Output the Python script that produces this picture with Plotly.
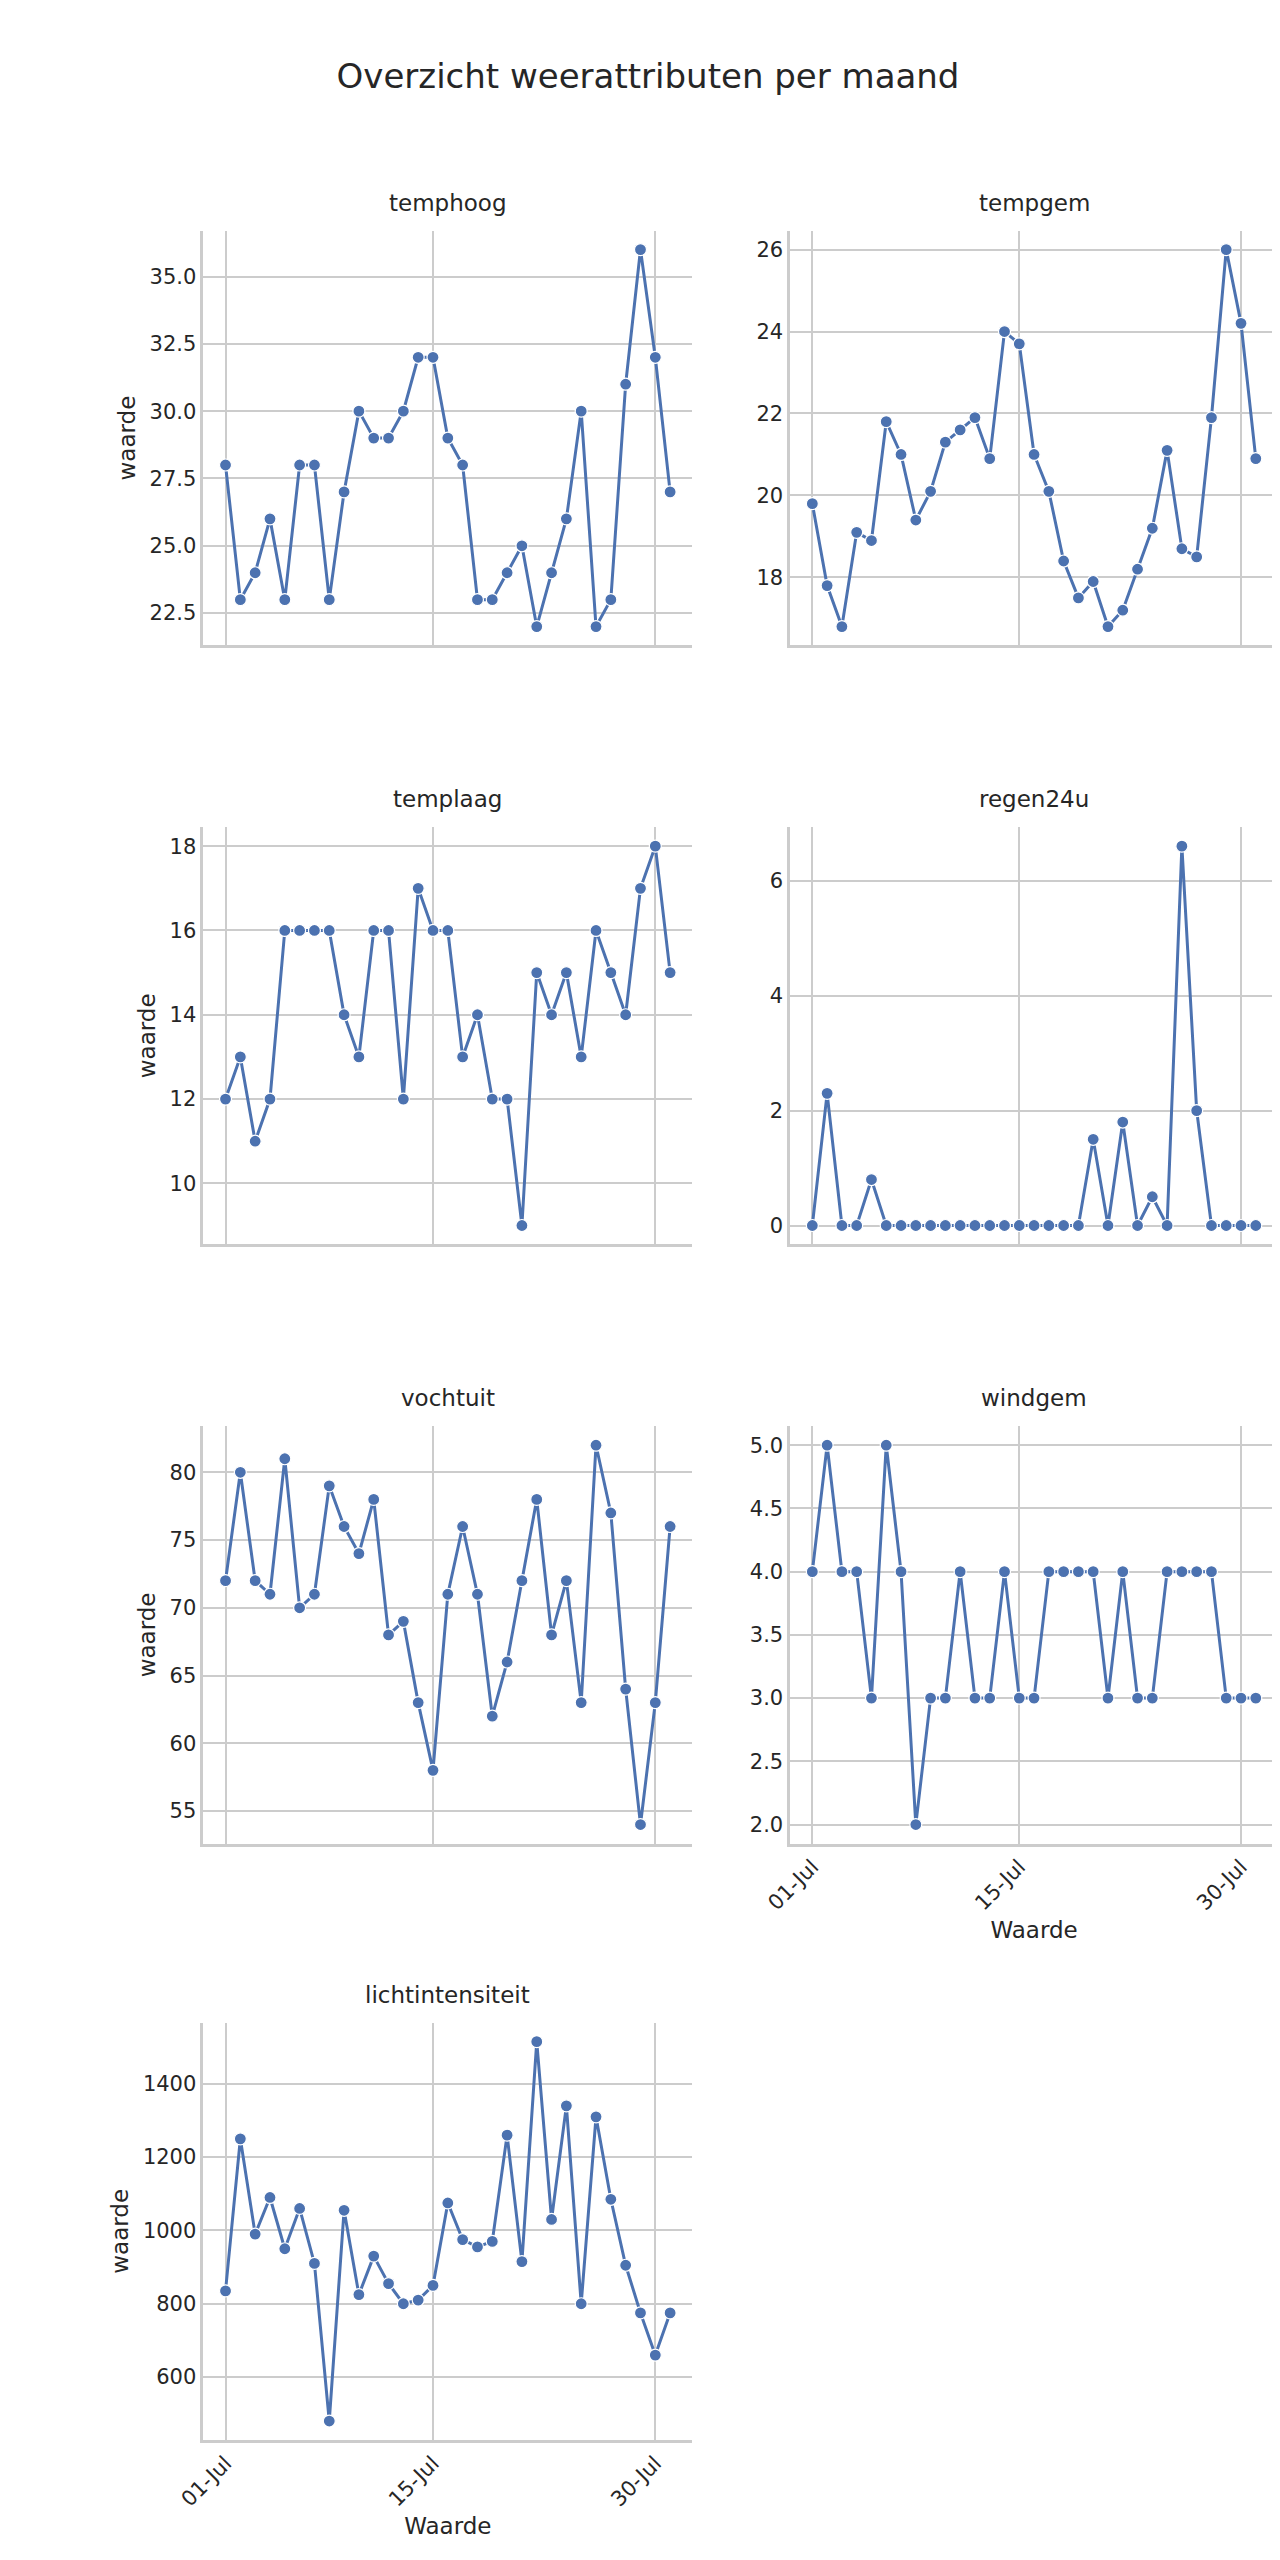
import pandas as pd
import plotly.graph_objects as go

dates = pd.date_range("2024-07-01", "2024-07-31")

temphoog = [28, 23, 24, 26, 23, 28, 28, 23, 27, 30, 29, 29, 30, 32, 32, 29, 28, 23, 23, 24, 25, 22, 24, 26, 30, 22, 23, 31, 36, 32, 27]
tempgem = [19.8, 17.8, 16.8, 19.1, 18.9, 21.8, 21.0, 19.4, 20.1, 21.3, 21.6, 21.9, 20.9, 24.0, 23.7, 21.0, 20.1, 18.4, 17.5, 17.9, 16.8, 17.2, 18.2, 19.2, 21.1, 18.7, 18.5, 21.9, 26.0, 24.2, 20.9]
templaag = [12, 13, 11, 12, 16, 16, 16, 16, 14, 13, 16, 16, 12, 17, 16, 16, 13, 14, 12, 12, 9, 15, 14, 15, 13, 16, 15, 14, 17, 18, 15]
regen24u = [0, 2.3, 0, 0, 0.8, 0, 0, 0, 0, 0, 0, 0, 0, 0, 0, 0, 0, 0, 0, 1.5, 0, 1.8, 0, 0.5, 0, 6.6, 2.0, 0, 0, 0, 0]
vochtuit = [72, 80, 72, 71, 81, 70, 71, 79, 76, 74, 78, 68, 69, 63, 58, 71, 76, 71, 62, 66, 72, 78, 68, 72, 63, 82, 77, 64, 54, 63, 76]
windgem = [4, 5, 4, 4, 3, 5, 4, 2, 3, 3, 4, 3, 3, 4, 3, 3, 4, 4, 4, 4, 3, 4, 3, 3, 4, 4, 4, 4, 3, 3, 3]
lichtintensiteit = [835, 1250, 990, 1090, 950, 1060, 910, 480, 1055, 825, 930, 855, 800, 810, 850, 1075, 975, 955, 970, 1260, 915, 1515, 1030, 1340, 800, 1310, 1085, 905, 775, 660, 775]

# (name, values, tick step, tick format)
panels = [("temphoog", temphoog, 2.5, ".1f"), ("tempgem", tempgem, 2, "d"),
          ("templaag", templaag, 2, "d"), ("regen24u", regen24u, 2, "d"),
          ("vochtuit", vochtuit, 5, "d"), ("windgem", windgem, 0.5, ".1f"),
          ("lichtintensiteit", lichtintensiteit, 200, "d")]

tick_dates = ["2024-07-01", "2024-07-15", "2024-07-30"]
tick_text = ["01-Jul", "15-Jul", "30-Jul"]

col_dom = [[0.135, 0.525], [0.603, 0.992]]
row_dom = [[0.751, 0.913], [0.517, 0.680], [0.283, 0.446], [0.050, 0.213]]

BLUE = "#4c72b0"
GRID = "#cccccc"
TXT = "#262626"
FONT = "DejaVu Sans"

fig = go.Figure()
layout = {}
annotations = []

span = (dates[-1] - dates[0]) * 0.05
xrange = [dates[0] - span, dates[-1] + span]

for i, (name, vals, step, fmt) in enumerate(panels):
    r, c = divmod(i, 2)
    n = i + 1
    xa = "x" if n == 1 else f"x{n}"
    ya = "y" if n == 1 else f"y{n}"
    fig.add_trace(go.Scatter(
        x=dates, y=vals, mode="lines+markers", xaxis=xa, yaxis=ya,
        line=dict(color=BLUE, width=3),
        marker=dict(color=BLUE, size=12, line=dict(color="white", width=1.2)),
        showlegend=False))

    bottom = name in ("windgem", "lichtintensiteit")
    lo, hi = min(vals), max(vals)
    pad = (hi - lo) * 0.05
    layout[f"xaxis{'' if n == 1 else n}"] = dict(
        domain=col_dom[c], anchor=ya, type="date", range=xrange,
        tickvals=tick_dates, ticktext=tick_text, showticklabels=bottom,
        tickangle=-45, showgrid=True, gridcolor=GRID, gridwidth=2,
        showline=True, linecolor=GRID, linewidth=2.5, zeroline=False,
        ticks="", tickfont=dict(size=21, color=TXT, family=FONT),
        title=dict(text="Waarde" if bottom else "", font=dict(size=23, color=TXT, family=FONT),
                   standoff=8))
    layout[f"yaxis{'' if n == 1 else n}"] = dict(
        domain=row_dom[r], anchor=xa, range=[lo - pad, hi + pad],
        tick0=0, dtick=step, tickformat=fmt,
        showgrid=True, gridcolor=GRID, gridwidth=2,
        showline=True, linecolor=GRID, linewidth=2.5, zeroline=False,
        ticks="", tickfont=dict(size=21, color=TXT, family=FONT),
        title=dict(text="waarde" if c == 0 else "", font=dict(size=23, color=TXT, family=FONT),
                   standoff=8))
    annotations.append(dict(
        text=name, x=sum(col_dom[c]) / 2, y=row_dom[r][1] + 0.005,
        xref="paper", yref="paper", xanchor="center", yanchor="bottom",
        showarrow=False, font=dict(size=23, color=TXT, family=FONT)))

fig.update_layout(
    width=1280, height=2560,
    paper_bgcolor="white", plot_bgcolor="white",
    margin=dict(l=0, r=0, t=0, b=0),
    title=dict(text="Overzicht weerattributen per maand", x=0.5, y=0.978,
               xanchor="center", font=dict(size=34, color=TXT, family=FONT)),
    annotations=annotations,
    **layout)

fig.write_html("out.html")
